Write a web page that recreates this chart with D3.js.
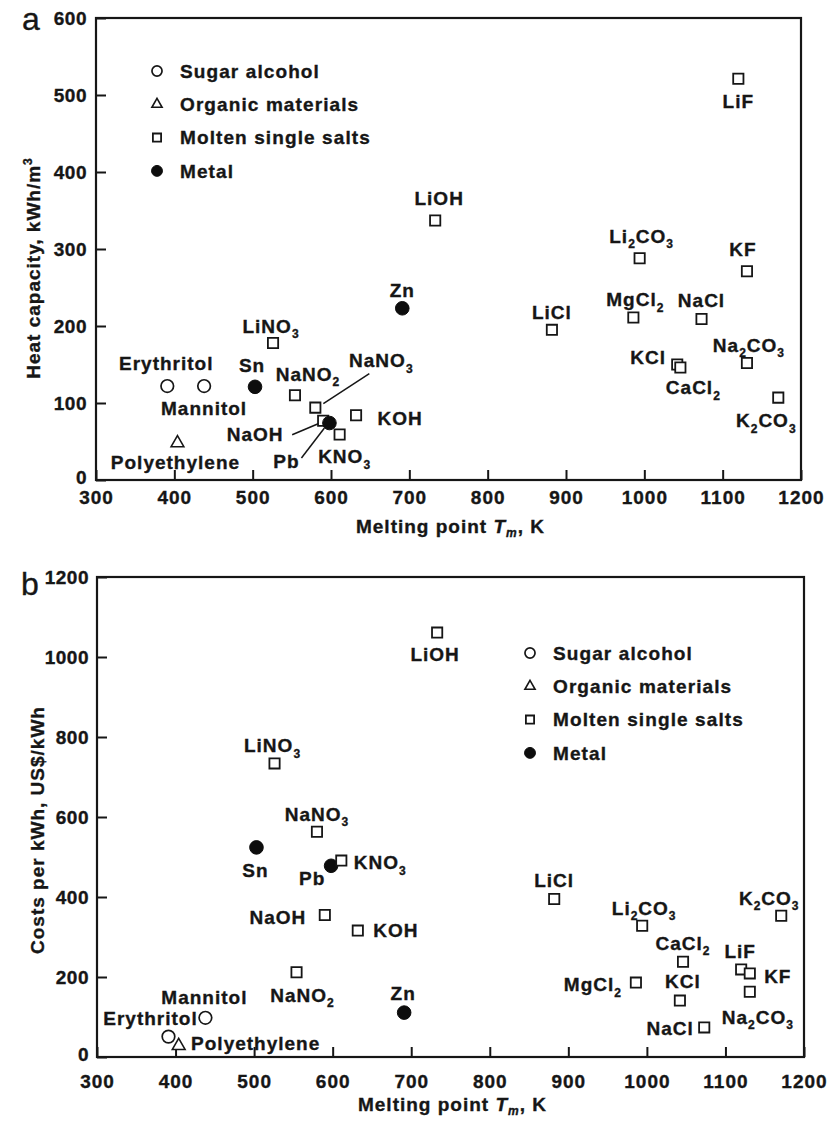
<!DOCTYPE html>
<html>
<head>
<meta charset="utf-8">
<script src="https://cdn.jsdelivr.net/npm/d3@7"></script>
<style>
  html, body { margin: 0; padding: 0; background: #fff; }
  svg text { font-family: "Liberation Sans", Arial, Helvetica, sans-serif; font-weight: bold; fill: #161616;
             stroke: #161616; stroke-width: 0.35px; }
</style>
</head>
<body>
<svg id="chart" width="833" height="1121"></svg>
<script>
// ---- data -------------------------------------------------------------
const groups = ["Sugar alcohol", "Organic materials", "Molten single salts", "Metal"];

const materials = ["Erythritol", "Mannitol", "Polyethylene", "Sn", "LiNO_3", "NaNO_2", "NaNO_3",
  "NaOH", "Pb", "KNO_3", "KOH", "Zn", "LiOH", "LiCl", "MgCl_2", "Li_2CO_3", "KCl", "CaCl_2",
  "NaCl", "LiF", "KF", "Na_2CO_3", "K_2CO_3"];

// index into groups
const materialGroup = [0, 0, 1, 3, 2, 2, 2, 2, 3, 2, 2, 3, 2, 2, 2, 2, 2, 2, 2, 2, 2, 2, 2];

// melting point, K
const meltingPoint = [391, 438, 404, 503, 526, 554, 580, 590, 598, 611, 632, 691, 733, 882,
  986, 994, 1042, 1046, 1073, 1120, 1131, 1131, 1171];

// heat capacity, kWh/m3
const heatCapacity = [122, 122, 48, 121, 178, 110, 94, 77, 74, 59, 84, 223, 337, 195,
  211, 288, 150, 146, 209, 521, 271, 152, 107];

// cost per kWh, US$/kWh
const costPerKWh = [51, 98, 28, 524, 734, 212, 563, 355, 478, 491, 316, 111, 1061, 395,
  186, 328, 141, 238, 74, 219, 209, 163, 353];

const xTickValues = [300, 400, 500, 600, 700, 800, 900, 1000, 1100, 1200];
const yTickValuesA = [0, 100, 200, 300, 400, 500, 600];
const yTickValuesB = [0, 200, 400, 600, 800, 1000, 1200];

// ---- label placement (offset of label centre from its marker, px) ------
const labelOffsetA = {
  "Erythritol": [-1, -23], "Mannitol": [0, 22], "Polyethylene": [-2, 19], "Sn": [-3, -22],
  "LiNO_3": [-2, -17], "NaNO_2": [13, -21], "NaNO_3": [66, -47], "NaOH": [-68, 13],
  "Pb": [-43, 38], "KNO_3": [5, 22], "KOH": [44, 3], "Zn": [0, -18], "LiOH": [4, -22],
  "LiF": [0, 22], "Li_2CO_3": [2, -22], "KF": [-4, -22], "LiCl": [0, -18], "MgCl_2": [2, -18],
  "NaCl": [0, -19], "KCl": [-29, -7], "CaCl_2": [13, 20], "Na_2CO_3": [2, -18], "K_2CO_3": [-12, 23]
};
// leader lines: [x1, y1, x2, y2] relative to the marker
const leaderA = {
  "NaNO_3": [8, -4, 54, -34],
  "NaOH": [-31, 14, -5, 3],
  "Pb": [-28, 35, -5, 5]
};
const labelOffsetB = {
  "Sn": [-1, 23], "Pb": [-19, 12], "KNO_3": [39, 2], "NaNO_3": [0, -18], "LiNO_3": [-2, -18],
  "NaOH": [-47, 2], "KOH": [38, 0], "NaNO_2": [6, 23], "Mannitol": [-1, -21],
  "Erythritol": [-18, -18], "Polyethylene": [77, -3], "Zn": [-1, -19], "LiOH": [-2, 22],
  "LiCl": [0, -19], "Li_2CO_3": [2, -18], "CaCl_2": [0, -19], "MgCl_2": [-43, 2],
  "KCl": [3, -19], "NaCl": [-34, 1], "LiF": [-1, -18], "KF": [28, 3], "Na_2CO_3": [8, 25],
  "K_2CO_3": [-12, -18]
};
const leaderB = {};

// ---- helpers ------------------------------------------------------------
const svg = d3.select("#chart");
const FONT = 19;
const LS = "1px";
const INK = "#161616";

// marker drawing per group
const symbolGen = d3.symbol();
function drawMarker(sel, g, scale) {
  const s = scale || 1;
  if (g === 0) {
    sel.append("circle").attr("r", 6.3 * s).attr("fill", "#fff").attr("stroke", INK).attr("stroke-width", 1.7);
  } else if (g === 1) {
    sel.append("path").attr("d", symbolGen.type(d3.symbolTriangle).size(70 * s * s)())
      .attr("fill", "#fff").attr("stroke", INK).attr("stroke-width", 1.6);
  } else if (g === 2) {
    sel.append("path").attr("d", symbolGen.type(d3.symbolSquare).size(105 * s * s)())
      .attr("fill", "#fff").attr("stroke", INK).attr("stroke-width", 1.8);
  } else {
    sel.append("circle").attr("r", 6.8 * s).attr("fill", "#0d0d0d").attr("stroke", "#0d0d0d").attr("stroke-width", 1);
  }
}

// write a chemical formula ("Li_2CO_3") with subscripts as tspans
function writeFormula(textSel, name, size) {
  const parts = name.split(/(_\d)/).filter(p => p.length);
  let shifted = false;
  parts.forEach(p => {
    if (p[0] === "_") {
      textSel.append("tspan").text(p.slice(1)).attr("font-size", Math.round(size * 0.62))
        .attr("dy", shifted ? 0 : size * 0.28);
      shifted = true;
    } else {
      textSel.append("tspan").text(p).attr("dy", shifted ? -size * 0.28 : 0);
      shifted = false;
    }
  });
}

function styleTickText(sel, spacing) {
  sel.attr("font-size", FONT).attr("letter-spacing", spacing).attr("fill", INK)
    .style("font-family", '"Liberation Sans", Arial, sans-serif').style("font-weight", "bold");
}

function drawPanel(cfg) {
  const g = svg.append("g");
  const x = d3.scaleLinear().domain([300, 1200]).range([cfg.left, cfg.right]);
  const y = d3.scaleLinear().domain(cfg.yDomain).range([cfg.bottom, cfg.top]);
  const fmt = d3.format("d");

  // x axis with inward ticks
  const xAxis = g.append("g").attr("transform", `translate(0,${cfg.bottom})`)
    .call(d3.axisBottom(x).tickValues(xTickValues).tickFormat(fmt)
      .tickSizeInner(-10).tickSizeOuter(0).tickPadding(cfg.xPad));
  xAxis.select(".domain").remove();
  xAxis.selectAll(".tick line").attr("stroke", INK).attr("stroke-width", 2);
  styleTickText(xAxis.selectAll(".tick text"), LS);

  // y axis with inward ticks
  const yAxis = g.append("g").attr("transform", `translate(${cfg.left},0)`)
    .call(d3.axisLeft(y).tickValues(cfg.yTicks).tickFormat(fmt)
      .tickSizeInner(-10).tickSizeOuter(0).tickPadding(cfg.yPad));
  yAxis.select(".domain").remove();
  yAxis.selectAll(".tick line").attr("stroke", INK).attr("stroke-width", 2);
  styleTickText(yAxis.selectAll(".tick text"), "0.5px");
  // the zero label sits just above the corner
  yAxis.selectAll(".tick").filter(d => d === 0).select("text").attr("dy", "0.2em");

  // frame
  g.append("rect").attr("x", cfg.left).attr("y", cfg.top)
    .attr("width", cfg.right - cfg.left).attr("height", cfg.bottom - cfg.top)
    .attr("fill", "none").attr("stroke", INK).attr("stroke-width", 2.2);

  // panel letter
  g.append("text").attr("x", cfg.letterX).attr("y", cfg.letterY).text(cfg.letter)
    .attr("font-size", 32).style("font-weight", "normal");

  // axis titles
  const xt = g.append("text").attr("x", (cfg.left + cfg.right) / 2 + 2).attr("y", cfg.xTitleY)
    .attr("text-anchor", "middle").attr("dy", "0.36em").attr("font-size", FONT).attr("letter-spacing", LS);
  xt.append("tspan").text("Melting point ");
  xt.append("tspan").text("T").style("font-style", "italic");
  xt.append("tspan").text("m").style("font-style", "italic").attr("font-size", 12).attr("dy", 4);
  xt.append("tspan").text(", K").attr("dy", -4);

  const yt = g.append("text")
    .attr("transform", `translate(${cfg.yTitleX},${cfg.yTitleY}) rotate(-90)`)
    .attr("text-anchor", "middle").attr("dy", "0.36em").attr("font-size", FONT).attr("letter-spacing", LS);
  yt.append("tspan").text(cfg.yTitle);
  if (cfg.yTitleSup) {
    yt.append("tspan").text(cfg.yTitleSup).attr("font-size", 12).attr("dy", -8);
  }

  // leader lines
  materials.forEach((m, i) => {
    const L = cfg.leaders[m];
    if (!L) return;
    const px = x(meltingPoint[i]), py = y(cfg.values[i]);
    g.append("line").attr("x1", px + L[0]).attr("y1", py + L[1]).attr("x2", px + L[2]).attr("y2", py + L[3])
      .attr("stroke", INK).attr("stroke-width", 1.5);
  });

  // markers
  const pts = g.append("g").selectAll("g").data(materials).join("g")
    .attr("transform", (d, i) => `translate(${x(meltingPoint[i])},${y(cfg.values[i])})`);
  pts.each(function (d, i) { drawMarker(d3.select(this), materialGroup[i]); });

  // labels
  materials.forEach((m, i) => {
    const off = cfg.labels[m];
    const t = g.append("text")
      .attr("x", x(meltingPoint[i]) + off[0])
      .attr("y", y(cfg.values[i]) + off[1] + FONT * 0.36)
      .attr("text-anchor", "middle").attr("font-size", FONT).attr("letter-spacing", LS);
    writeFormula(t, m, FONT);
  });

  // legend
  const leg = g.append("g");
  groups.forEach((name, k) => {
    const row = leg.append("g").attr("transform", `translate(${cfg.legendX},${cfg.legendY + k * 33.3})`);
    drawMarker(row, k, 0.8);
    row.append("text").attr("x", 23).attr("dy", "0.36em").text(name)
      .attr("font-size", FONT).attr("letter-spacing", "1.1px");
  });
}

drawPanel({
  letter: "a", letterX: 22, letterY: 30,
  left: 96, right: 801, top: 18, bottom: 480,
  yDomain: [0, 600], yTicks: yTickValuesA, values: heatCapacity,
  xPad: 11, yPad: 9, xTitleY: 526,
  yTitle: "Heat capacity, kWh/m", yTitleSup: "3", yTitleX: 33, yTitleY: 268,
  labels: labelOffsetA, leaders: leaderA,
  legendX: 157, legendY: 71
});

drawPanel({
  letter: "b", letterX: 21, letterY: 595,
  left: 97, right: 804, top: 577, bottom: 1057,
  yDomain: [0, 1200], yTicks: yTickValuesB, values: costPerKWh,
  xPad: 18, yPad: 8, xTitleY: 1104,
  yTitle: "Costs per kWh, US$/kWh", yTitleSup: null, yTitleX: 37, yTitleY: 830,
  labels: labelOffsetB, leaders: leaderB,
  legendX: 530, legendY: 653
});
</script>
</body>
</html>
